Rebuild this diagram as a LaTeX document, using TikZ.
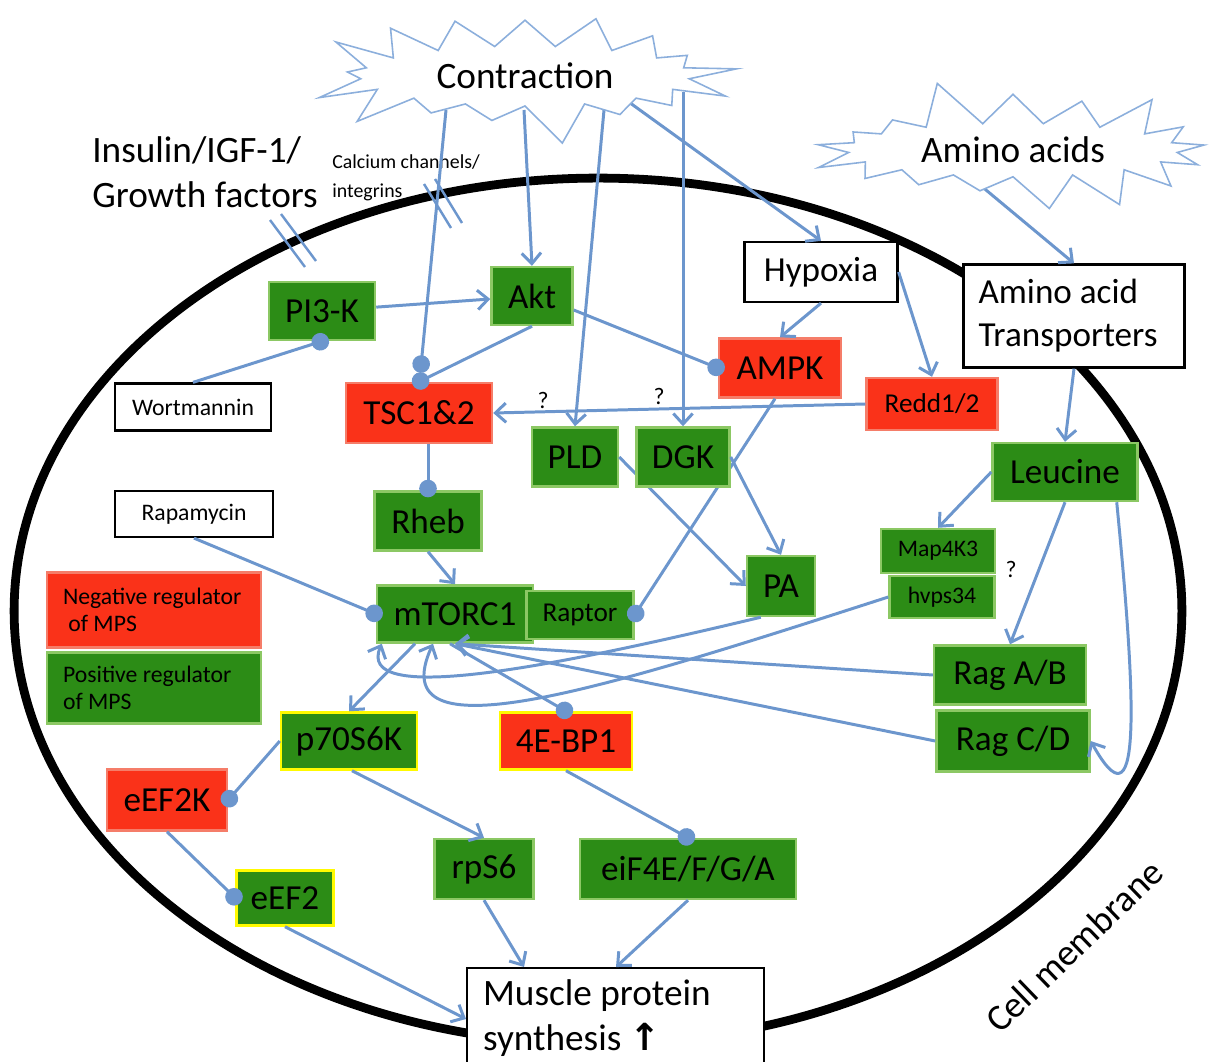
\documentclass[tikz,border=0pt]{standalone}
\usepackage{fontspec}
\setmainfont{Carlito}
\newfontfamily\arrowfont{DejaVu Sans}
\usetikzlibrary{arrows.meta,shapes.symbols,calc}
\definecolor{linkblue}{RGB}{108,150,205}
\definecolor{burstblue}{RGB}{140,175,220}
\definecolor{posgreen}{RGB}{44,140,22}
\definecolor{posedge}{RGB}{140,200,100}
\definecolor{negred}{RGB}{250,50,25}
\definecolor{negedge}{RGB}{245,125,105}
\definecolor{yellowedge}{RGB}{255,250,0}
\newcommand{\hugetxt}{\fontsize{21.2}{25.5}\selectfont}
\newcommand{\bigtxt}{\fontsize{20}{24.5}\selectfont}
\newcommand{\midtxt}{\fontsize{15.5}{18}\selectfont}
\newcommand{\smalltxt}{\fontsize{13.5}{15.5}\selectfont}
\newcommand{\tinytxt}{\fontsize{11.3}{16.4}\selectfont}

\begin{document}
\begin{tikzpicture}[x=0.02cm, y=-0.02cm,
    nodebox/.style={rectangle, line width=1.4pt, inner sep=2pt, font=\bigtxt},
    posbox/.style={nodebox, fill=posgreen, draw=posedge},
    negbox/.style={nodebox, fill=negred, draw=negedge},
    whitebox/.style={nodebox, fill=white, draw=black, line width=1.3pt},
    yellowrim/.style={draw=yellowedge},
    burst/.style={starburst, draw=burstblue, fill=white, line width=0.9pt, font=\hugetxt},
    actline/.style={draw=linkblue, line width=1.7pt, -{Straight Barb[length=6pt,width=11pt]}},
    inhline/.style={draw=linkblue, line width=1.7pt, -{Circle[length=10pt]}, shorten >=-4pt},
    slash/.style={draw=linkblue, line width=1.4pt},
    qmark/.style={font=\smalltxt}]

    \useasboundingbox (0,0) rectangle (1212,1061);
    % cell membrane
    \draw[line width=5pt] (598,611) ellipse [x radius=11.68cm, y radius=8.66cm];
    \draw[slash] (270,220) -- (305,267);
    \draw[slash] (281,214) -- (316,261);
    \draw[slash] (424,184) -- (451,228);
    \draw[slash] (435,179) -- (462,223);

    % free labels
    \node[anchor=west, align=flush left, inner sep=0pt, font=\hugetxt] (insulin) at (92,172) {Insulin/IGF-1/\\Growth factors};
    \node[anchor=west, align=flush left, inner sep=0pt, font=\tinytxt] (calcium) at (332,178) {Calcium channels/\\integrins};
    \node[rotate=44, font=\hugetxt] (cellm) at (1074,946) {Cell membrane};
    \node[qmark] (q1) at (543,400) {?};
    \node[qmark] (q2) at (659,396) {?};
    \node[qmark] (q3) at (1011,569) {?};

    % boxes
    \node[posbox, minimum width=2.12cm, minimum height=1.16cm] (pik) at (322,311) {PI3-K};
    \node[posbox, minimum width=1.62cm, minimum height=1.16cm] (akt) at (532,296) {Akt};
    \node[negbox, minimum width=2.44cm, minimum height=1.18cm] (ampk) at (780,368) {AMPK};
    \node[negbox, minimum width=2.62cm, minimum height=1.04cm, font=\midtxt] (redd) at (932,404) {Redd1/2};
    \node[whitebox, minimum width=3.06cm, minimum height=1.2cm] (hyp) at (821,272) {Hypoxia};
    \node[whitebox, text width=3.82cm, inner xsep=0.3cm, minimum height=2.06cm, align=flush left] (trans) at (1074,316) {Amino acid\\Transporters};
    \node[whitebox, minimum width=3.12cm, minimum height=0.94cm, font=\smalltxt] (wort) at (193,407) {Wortmannin};
    \node[negbox, minimum width=2.92cm, minimum height=1.2cm] (tsc) at (419,413) {TSC1\&2};
    \node[posbox, minimum width=1.72cm, minimum height=1.18cm] (pld) at (575,457) {PLD};
    \node[posbox, minimum width=2.9cm, minimum height=1.16cm] (leu) at (1065,472) {Leucine};
    \node[whitebox, minimum width=3.16cm, minimum height=0.92cm, font=\smalltxt] (rapa) at (194,514) {Rapamycin};
    \node[posbox, minimum width=2.14cm, minimum height=1.18cm] (rheb) at (428,521) {Rheb};
    \node[posbox, minimum width=2.28cm, minimum height=0.88cm, font=\smalltxt] (mapk) at (938,551) {Map4K3};
    \node[posbox, minimum width=2.1cm, minimum height=0.84cm, font=\smalltxt] (hvps) at (942,597) {hvps34};
    \node[posbox, minimum width=1.36cm, minimum height=1.2cm] (pa) at (781,586) {PA};
    \node[posbox, minimum width=3.12cm, minimum height=1.14cm] (mtor) at (455,614) {mTORC1};
    \node[posbox, minimum width=2.14cm, minimum height=0.96cm, font=\midtxt] (raptor) at (580,615) {Raptor};
    \node[posbox, minimum width=3.04cm, minimum height=1.18cm] (raga) at (1010,675) {Rag A/B};
    \node[posbox, minimum width=3.06cm, minimum height=1.22cm] (ragc) at (1013,741) {Rag C/D};
    \node[posbox, yellowrim, minimum width=2.72cm, minimum height=1.14cm] (p70) at (349,741) {p70S6K};
    \node[negbox, yellowrim, minimum width=2.64cm, minimum height=1.14cm] (ebp) at (566,741) {4E-BP1};
    \node[negbox, minimum width=2.4cm, minimum height=1.22cm] (eefk) at (167,800) {eEF2K};
    \node[posbox, minimum width=1.98cm, minimum height=1.2cm] (rps) at (484,869) {rpS6};
    \node[posbox, minimum width=4.32cm, minimum height=1.2cm] (eif) at (688,869) {eiF4E/F/G/A};
    \node[posbox, yellowrim, minimum width=1.94cm, minimum height=1.1cm] (eef) at (285,898) {eEF2};
    \node[whitebox, anchor=north west, text width=5.3cm, inner xsep=0.32cm, minimum height=2cm, align=flush left, font=\hugetxt] (mps) at (466,967) {Muscle protein\\synthesis {\arrowfont\bfseries ↑}};

    % legend
    \node[negbox, text width=3.64cm, inner xsep=0.32cm, minimum height=1.5cm, align=flush left, font=\smalltxt] (neg) at (154,610) {Negative regulator\\\ of MPS};
    \node[posbox, text width=3.64cm, inner xsep=0.32cm, minimum height=1.42cm, align=flush left, font=\smalltxt] (posl) at (154,688) {Positive regulator\\of MPS};

    % these two run under DGK
    \draw[inhline] ($(ampk.south)+(-5,0)$) -- (raptor.east);
    \draw[actline] (pld.east) -- (pa.west);
    \node[posbox, minimum width=1.86cm, minimum height=1.18cm] (dgk) at (683,457) {DGK};

    % from the contraction burst
    \coordinate (c1) at (446,110);
    \coordinate (c2) at (524,110);
    \coordinate (c3) at (604,110);
    \coordinate (c4) at (683,92);
    \coordinate (c5) at (626,100);
    \coordinate (a1) at (962,170);
    \draw[inhline] (c1) -- ($(tsc.north)+(2,-16)$);
    \draw[actline] (c2) -- (akt.north);
    \draw[actline] (c3) -- (pld.north);
    \draw[actline] (c4) -- (dgk.north);
    \draw[actline] (c5) -- (hyp.north);
    \draw[actline] (a1) -- (trans.north);

    \node[burst, starburst points=17, starburst point height=1.0cm, minimum width=8.6cm, minimum height=3.2cm, random starburst=12] (contr) at (525,76) {Contraction};
    \node[burst, starburst points=17, starburst point height=0.95cm, minimum width=8.5cm, minimum height=2.95cm, random starburst=5] (amino) at (1013,150) {Amino acids};

    \draw[actline] (pik) -- (akt);
    \draw[inhline] (wort.north) -- (pik.south);
    \draw[inhline] (akt.south) -- (tsc.north);
    \draw[inhline] ($(akt.east)+(0,14)$) -- (ampk.west);
    \draw[actline] (hyp.south) -- (ampk.north);
    \draw[actline] (hyp.east) -- (redd.north);
    \draw[actline] (trans.south) -- (leu.north);
    \draw[actline] (redd.west) -- (tsc.east);
    \draw[inhline] (rheb.north |- tsc.south) -- (rheb.north);
    \draw[actline] (rheb.south) -- (mtor.north);
    \draw[inhline] (rapa.south) -- (mtor.west);
    \draw[actline] (dgk.east) -- (pa.north);
    \draw[actline] (leu.west) -- (mapk.north);
    \draw[actline] (leu.south) -- (raga.north);
    \draw[actline] ($(leu.south east)+(-22,0)$) .. controls (1138,720) and (1140,830) .. (ragc.east);
    \draw[actline] (hvps.west) .. controls (600,690) and (380,760) .. ($(mtor.south)+(-22,0)$);
    \draw[actline] ($(pa.south west)+(15,0)$) .. controls (540,670) and (355,705) .. ($(mtor.south west)+(6,0)$);
    \draw[actline] (raga.west) -- (mtor.south);
    \draw[actline] (ragc.west) -- (mtor.south);
    \draw[inhline] ($(mtor.south)+(-5,0)$) -- (ebp.north);
    \draw[actline] ($(mtor.south)+(-40,0)$) -- (p70.north);
    \draw[inhline] (p70.west) -- (eefk.east);
    \draw[actline] ($(p70.south)+(3,0)$) -- (rps.north);
    \draw[inhline] (ebp.south) -- (eif.north);
    \draw[inhline] (eefk.south) -- (eef.west);
    \draw[actline] (eef.south) -- ($(mps.north west)+(0,52)$);
    \draw[actline] (rps.south) -- ($(mps.north west)+(58,0)$);
    \draw[actline] (eif.south) -- ($(mps.north west)+(150,0)$);
\end{tikzpicture}
\end{document}
